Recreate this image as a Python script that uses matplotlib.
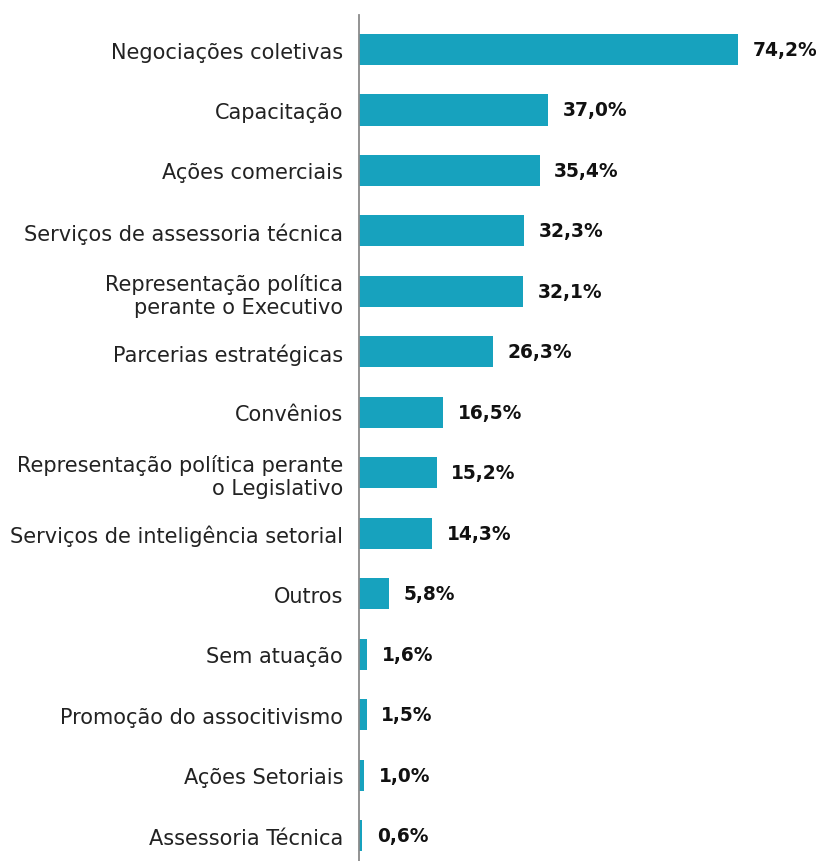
import matplotlib
matplotlib.use("Agg")
import matplotlib.pyplot as plt

categories = [
    "Negociações coletivas",
    "Capacitação",
    "Ações comerciais",
    "Serviços de assessoria técnica",
    "Representação política\nperante o Executivo",
    "Parcerias estratégicas",
    "Convênios",
    "Representação política perante\no Legislativo",
    "Serviços de inteligência setorial",
    "Outros",
    "Sem atuação",
    "Promoção do associtivismo",
    "Ações Setoriais",
    "Assessoria Técnica",
]
values = [74.2, 37.0, 35.4, 32.3, 32.1, 26.3, 16.5, 15.2, 14.3, 5.8, 1.6, 1.5, 1.0, 0.6]
value_labels = ["74,2%", "37,0%", "35,4%", "32,3%", "32,1%", "26,3%", "16,5%",
                "15,2%", "14,3%", "5,8%", "1,6%", "1,5%", "1,0%", "0,6%"]

W, H = 816, 862
fig = plt.figure(figsize=(W / 100, H / 100), dpi=100)
left = 359 / W
ax = fig.add_axes([left, 0, 1 - left, (862 - 16) / H])

color = "#17A2BE"
pos = list(range(len(categories)))
ax.barh(pos, values, height=0.513, color=color)
ax.set_xlim(0, 457 / 5.104)
ax.set_ylim(13.42, -0.571)

ax.set_yticks(pos)
ax.set_yticklabels(categories, fontsize=15, color="#222222", ha="right",
                   multialignment="right", linespacing=1.2)
ax.tick_params(axis="y", length=0, pad=11.5)
ax.set_xticks([])

for s in ["top", "right", "bottom"]:
    ax.spines[s].set_visible(False)
ax.spines["left"].set_color("#8a8a8a")
ax.spines["left"].set_linewidth(1.3)

for p, v, lab in zip(pos, values, value_labels):
    ax.annotate(lab, xy=(v, p), xytext=(10.5, 0), textcoords="offset points",
                ha="left", va="center", fontsize=13.4, fontweight="bold", color="#111111")

fig.savefig("out.png", dpi=100)
